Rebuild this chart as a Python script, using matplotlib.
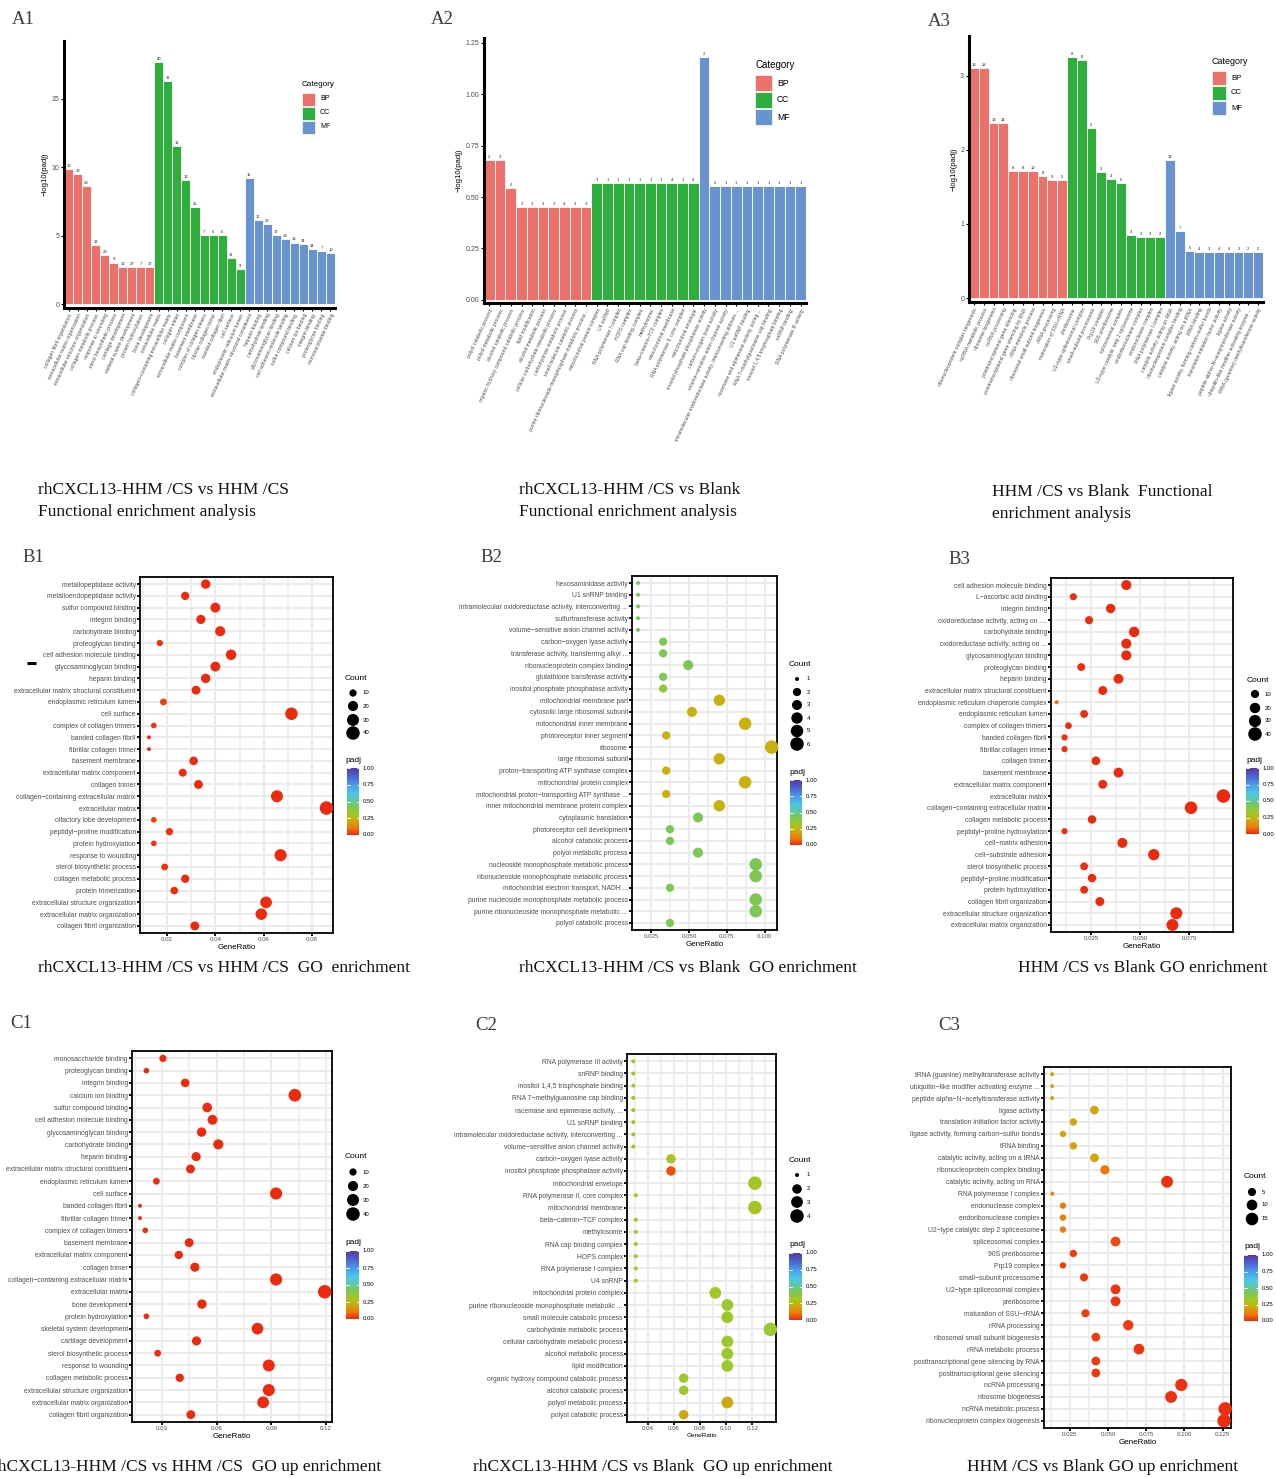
import numpy as np
import matplotlib
matplotlib.use('Agg')
import matplotlib.pyplot as plt
from matplotlib.colors import LinearSegmentedColormap
from matplotlib.patches import Rectangle
from matplotlib.ticker import MultipleLocator, FormatStrFormatter

plt.rcParams['font.family'] = ['Liberation Sans', 'DejaVu Sans']

W, H = 1276, 1478

# ---------------- A panels: -log10(padj) bar charts ----------------
a1_bp_terms = ['collagen fibril organization', 'extracellular matrix organization',
               'extracellular structure organization', 'collagen metabolic process',
               'response to wounding', 'sterol biosynthetic process', 'cartilage development',
               'skeletal system development', 'protein hydroxylation', 'bone development']
a1_bp_vals = [9.86, 9.48, 8.60, 4.31, 3.56, 3.03, 2.71, 2.71, 2.71, 2.71]
a1_bp_counts = [16, 28, 29, 13, 29, 9, 16, 27, 7, 17]
a1_cc_terms = ['extracellular matrix', 'collagen−containing extracellular matrix', 'collagen trimer',
               'extracellular matrix component', 'basement membrane', 'complex of collagen trimers',
               'fibrillar collagen trimer', 'banded collagen fibril', 'cell surface',
               'endoplasmic reticulum lumen']
a1_cc_vals = [17.68, 16.28, 11.54, 9.05, 7.10, 5.02, 5.02, 5.02, 3.39, 2.53]
a1_cc_counts = [40, 31, 16, 13, 15, 7, 6, 6, 31, 9]
a1_mf_terms = ['extracellular matrix structural constituent', 'heparin binding', 'carbohydrate binding',
               'glycosaminoglycan binding', 'cell adhesion molecule binding', 'sulfur compound binding',
               'calcium ion binding', 'integrin binding', 'proteoglycan binding', 'monosaccharide binding']
a1_mf_vals = [9.23, 6.15, 5.87, 5.02, 4.77, 4.49, 4.36, 4.01, 3.84, 3.69]
a1_mf_counts = [15, 16, 20, 17, 19, 18, 34, 14, 7, 10]

a2_bp_terms = ['polyol catabolic process', 'polyol metabolic process', 'alcohol catabolic process',
               'organic hydroxy compound catabolic process', 'lipid modification',
               'alcohol metabolic process', 'cellular carbohydrate metabolic process',
               'carbohydrate metabolic process', 'small molecule catabolic process',
               'purine ribonucleoside monophosphate metabolic process ...']
a2_bp_vals = [0.680, 0.680, 0.544, 0.451, 0.451, 0.451, 0.451, 0.451, 0.451, 0.451]
a2_bp_counts = [2, 3, 2, 2, 3, 3, 3, 4, 3, 3]
a2_cc_terms = ['mitochondrial protein complex', 'U4 snRNP', 'RNA polymerase I complex', 'HOPS complex',
               'RNA cap binding complex', 'methylosome', 'beta−catenin−TCF complex',
               'mitochondrial membrane', 'RNA polymerase II, core complex', 'mitochondrial envelope']
a2_cc_vals = [0.566, 0.566, 0.566, 0.566, 0.566, 0.566, 0.566, 0.566, 0.566, 0.566]
a2_cc_counts = [3, 1, 1, 1, 1, 1, 1, 4, 1, 4]
a2_mf_terms = ['inositol phosphate phosphatase activity', 'carbon−oxygen lyase activity',
               'volume−sensitive anion channel activity',
               'intramolecular oxidoreductase activity, interconverting aldoses ...',
               'U1 snRNP binding', 'racemase and epimerase activity, acting ...',
               'RNA 7−methylguanosine cap binding', 'inositol 1,4,5 trisphosphate binding',
               'snRNP binding', 'RNA polymerase III activity']
a2_mf_vals = [1.179, 0.553, 0.553, 0.553, 0.553, 0.553, 0.553, 0.553, 0.553, 0.553]
a2_mf_counts = [2, 2, 1, 1, 1, 1, 1, 1, 1, 1]

a3_bp_terms = ['ribonucleoprotein complex biogenesis', 'ncRNA metabolic process', 'ribosome biogenesis',
               'ncRNA processing', 'posttranscriptional gene silencing',
               'posttranscriptional gene silencing by RNA', 'rRNA metabolic process',
               'ribosomal small subunit biogenesis', 'rRNA processing', 'maturation of SSU−rRNA']
a3_bp_vals = [3.11, 3.11, 2.36, 2.36, 1.72, 1.72, 1.72, 1.65, 1.60, 1.60]
a3_bp_counts = [18, 18, 13, 14, 8, 8, 10, 8, 9, 5]
a3_cc_terms = ['preribosome', 'U2−type spliceosomal complex', 'small−subunit processome', 'Prp19 complex',
               '90S preribosome', 'spliceosomal complex', 'U2−type catalytic step 2 spliceosome',
               'endoribonuclease complex', 'endonuclease complex', 'RNA polymerase I complex']
a3_cc_vals = [3.26, 3.21, 2.30, 1.70, 1.61, 1.55, 0.85, 0.82, 0.82, 0.82]
a3_cc_counts = [8, 8, 5, 3, 4, 6, 3, 3, 3, 2]
a3_mf_terms = ['catalytic activity, acting on RNA', 'ribonucleoprotein complex binding',
               'catalytic activity, acting on a tRNA', 'tRNA binding',
               'ligase activity, forming carbon−sulfur bonds', 'translation initiation factor activity',
               'ligase activity', 'peptide alpha−N−acetyltransferase activity',
               'ubiquitin−like modifier activating enzyme ...', 'tRNA (guanine) methyltransferase activity']
a3_mf_vals = [1.87, 0.905, 0.635, 0.62, 0.62, 0.62, 0.62, 0.62, 0.62, 0.62]
a3_mf_counts = [13, 7, 6, 4, 3, 4, 6, 2, 2, 2]

# ---------------- B panels: GO enrichment dot plots ----------------
b1_terms = ['metallopeptidase activity', 'metalloendopeptidase activity', 'sulfur compound binding',
            'integrin binding', 'carbohydrate binding', 'proteoglycan binding',
            'cell adhesion molecule binding', 'glycosaminoglycan binding', 'heparin binding',
            'extracellular matrix structural constituent', 'endoplasmic reticulum lumen', 'cell surface',
            'complex of collagen trimers', 'banded collagen fibril', 'fibrillar collagen trimer',
            'basement membrane', 'extracellular matrix component', 'collagen trimer',
            'collagen−containing extracellular matrix', 'extracellular matrix',
            'olfactory lobe development', 'peptidyl−proline modification', 'protein hydroxylation',
            'response to wounding', 'sterol biosynthetic process', 'collagen metabolic process',
            'protein trimerization', 'extracellular structure organization',
            'extracellular matrix organization', 'collagen fibril organization']
b1_ratio = [0.036, 0.0275, 0.040, 0.034, 0.042, 0.017, 0.0465, 0.040, 0.036, 0.032,
            0.0185, 0.0715, 0.0145, 0.0125, 0.0125, 0.031, 0.0265, 0.033, 0.0655, 0.086,
            0.0145, 0.021, 0.0145, 0.067, 0.019, 0.0275, 0.023, 0.061, 0.059, 0.0315]
b1_count = [17, 13, 19, 16, 20, 8, 22, 19, 17, 15, 9, 33, 7, 6, 6, 14, 12, 15, 30, 40,
            7, 10, 7, 31, 9, 13, 11, 28, 27, 15]
b1_padj = [0.001, 0.002, 0.001, 0.002, 0.001, 0.008, 0.001, 0.001, 0.001, 0.001,
           0.03, 0.001, 0.01, 0.005, 0.005, 0.001, 0.002, 0.001, 0.001, 0.001,
           0.03, 0.01, 0.012, 0.001, 0.015, 0.002, 0.004, 0.001, 0.001, 0.001]

b2_terms = ['hexosaminidase activity', 'U1 snRNP binding',
            'intramolecular oxidoreductase activity, interconverting ...', 'sulfurtransferase activity',
            'volume−sensitive anion channel activity', 'carbon−oxygen lyase activity',
            'transferase activity, transferring alkyl ...', 'ribonucleoprotein complex binding',
            'glutathione transferase activity', 'inositol phosphate phosphatase activity',
            'mitochondrial membrane part', 'cytosolic large ribosomal subunit',
            'mitochondrial inner membrane', 'photoreceptor inner segment', 'ribosome',
            'large ribosomal subunit', 'proton−transporting ATP synthase complex',
            'mitochondrial protein complex', 'mitochondrial proton−transporting ATP synthase ...',
            'inner mitochondrial membrane protein complex', 'cytoplasmic translation',
            'photoreceptor cell development', 'alcohol catabolic process', 'polyol metabolic process',
            'nucleoside monophosphate metabolic process', 'ribonucleoside monophosphate metabolic process',
            'mitochondrial electron transport, NADH ...', 'purine nucleoside monophosphate metabolic process',
            'purine ribonucleoside monophosphate metabolic ...', 'polyol catabolic process']
b2_ratio = [0.0165, 0.0165, 0.0165, 0.0165, 0.0165, 0.033, 0.033, 0.0495, 0.033, 0.033,
            0.070, 0.052, 0.087, 0.035, 0.1045, 0.070, 0.035, 0.087, 0.035, 0.070,
            0.056, 0.0375, 0.0375, 0.056, 0.094, 0.094, 0.0375, 0.094, 0.094, 0.0375]
b2_count = [1, 1, 1, 1, 1, 2, 2, 3, 2, 2, 4, 3, 5, 2, 6, 4, 2, 5, 2, 4,
            3, 2, 2, 3, 5, 5, 2, 5, 5, 2]
b2_padj = [0.42, 0.42, 0.42, 0.42, 0.42, 0.42, 0.42, 0.42, 0.42, 0.36,
           0.22, 0.22, 0.22, 0.22, 0.22, 0.22, 0.22, 0.22, 0.22, 0.22,
           0.42, 0.42, 0.42, 0.42, 0.42, 0.42, 0.42, 0.42, 0.42, 0.42]

b3_terms = ['cell adhesion molecule binding', 'L−ascorbic acid binding', 'integrin binding',
            'oxidoreductase activity, acting on ....', 'carbohydrate binding',
            'oxidoreductase activity, acting on ...', 'glycosaminoglycan binding', 'proteoglycan binding',
            'heparin binding', 'extracellular matrix structural constituent',
            'endoplasmic reticulum chaperone complex', 'endoplasmic reticulum lumen',
            'complex of collagen trimers', 'banded collagen fibril', 'fibrillar collagen trimer',
            'collagen trimer', 'basement membrane', 'extracellular matrix component',
            'extracellular matrix', 'collagen−containing extracellular matrix',
            'collagen metabolic process', 'peptidyl−proline hydroxylation', 'cell−matrix adhesion',
            'cell−substrate adhesion', 'sterol biosynthetic process', 'peptidyl−proline modification',
            'protein hydroxylation', 'collagen fibril organization',
            'extracellular structure organization', 'extracellular matrix organization']
b3_ratio = [0.043, 0.016, 0.035, 0.024, 0.047, 0.043, 0.043, 0.020, 0.039, 0.031,
            0.0075, 0.0215, 0.0135, 0.0115, 0.0115, 0.0275, 0.039, 0.031, 0.0925, 0.076,
            0.0255, 0.0115, 0.041, 0.057, 0.0215, 0.0255, 0.0215, 0.0295, 0.0685, 0.0665]
b3_count = [18, 7, 15, 10, 20, 18, 18, 9, 17, 13, 3, 9, 6, 5, 5, 12, 17, 13, 40, 33,
            11, 5, 18, 25, 9, 11, 9, 13, 29, 29]
b3_padj = [0.001, 0.01, 0.001, 0.004, 0.001, 0.001, 0.001, 0.003, 0.001, 0.001,
           0.08, 0.004, 0.006, 0.008, 0.008, 0.002, 0.001, 0.001, 0.001, 0.001,
           0.002, 0.008, 0.001, 0.001, 0.004, 0.002, 0.004, 0.002, 0.001, 0.001]

# ---------------- C panels: GO up enrichment dot plots ----------------
c1_terms = ['monosaccharide binding', 'proteoglycan binding', 'integrin binding', 'calcium ion binding',
            'sulfur compound binding', 'cell adhesion molecule binding', 'glycosaminoglycan binding',
            'carbohydrate binding', 'heparin binding', 'extracellular matrix structural constituent',
            'endoplasmic reticulum lumen', 'cell surface', 'banded collagen fibril',
            'fibrillar collagen trimer', 'complex of collagen trimers', 'basement membrane',
            'extracellular matrix component', 'collagen trimer',
            'collagen−containing extracellular matrix', 'extracellular matrix', 'bone development',
            'protein hydroxylation', 'skeletal system development', 'cartilage development',
            'sterol biosynthetic process', 'response to wounding', 'collagen metabolic process',
            'extracellular structure organization', 'extracellular matrix organization',
            'collagen fibril organization']
c1_ratio = [0.0305, 0.0214, 0.0427, 0.1029, 0.0548, 0.0577, 0.0517, 0.0609, 0.0487, 0.0456,
            0.0269, 0.0926, 0.0179, 0.0179, 0.0208, 0.0449, 0.0392, 0.0480, 0.0926, 0.1193,
            0.0519, 0.0214, 0.0824, 0.0489, 0.0276, 0.0886, 0.0397, 0.0886, 0.0855, 0.0458]
c1_count = [10, 7, 14, 34, 18, 19, 17, 20, 16, 15, 9, 31, 6, 6, 7, 15, 13, 16, 31, 40,
            17, 7, 28, 16, 9, 30, 13, 30, 29, 15]
c1_padj = [0.004, 0.006, 0.001, 0.001, 0.001, 0.001, 0.001, 0.001, 0.001, 0.001,
           0.008, 0.001, 0.004, 0.004, 0.004, 0.001, 0.001, 0.001, 0.001, 0.001,
           0.001, 0.006, 0.001, 0.001, 0.006, 0.001, 0.001, 0.001, 0.001, 0.001]

c2_terms = ['RNA polymerase III activity', 'snRNP binding', 'inositol 1,4,5 trisphosphate binding',
            'RNA 7−methylguanosine cap binding', 'racemase and epimerase activity, ...',
            'U1 snRNP binding', 'intramolecular oxidoreductase activity, interconverting ...',
            'volume−sensitive anion channel activity', 'carbon−oxygen lyase activity',
            'inositol phosphate phosphatase activity', 'mitochondrial envelope',
            'RNA polymerase II, core complex', 'mitochondrial membrane', 'beta−catenin−TCF complex',
            'methylosome', 'RNA cap binding complex', 'HOPS complex', 'RNA polymerase I complex',
            'U4 snRNP', 'mitochondrial protein complex',
            'purine ribonucleoside monophosphate metabolic ...', 'small molecule catabolic process',
            'carbohydrate metabolic process', 'cellular carbohydrate metabolic process',
            'alcohol metabolic process', 'lipid modification',
            'organic hydroxy compound catabolic process', 'alcohol catabolic process',
            'polyol metabolic process', 'polyol catabolic process']
c2_ratio = [0.029, 0.029, 0.029, 0.029, 0.029, 0.029, 0.029, 0.029, 0.0578, 0.0578,
            0.122, 0.0309, 0.122, 0.0309, 0.0309, 0.0309, 0.0309, 0.0309, 0.0309, 0.0917,
            0.1009, 0.1009, 0.1338, 0.1009, 0.1009, 0.1009, 0.0675, 0.0675, 0.1009, 0.0675]
c2_count = [1, 1, 1, 1, 1, 1, 1, 1, 2, 2, 4, 1, 4, 1, 1, 1, 1, 1, 1, 3,
            3, 3, 4, 3, 3, 3, 2, 2, 3, 2]
c2_padj = [0.30, 0.30, 0.30, 0.30, 0.30, 0.30, 0.30, 0.30, 0.31, 0.05,
           0.31, 0.30, 0.31, 0.30, 0.30, 0.30, 0.30, 0.30, 0.30, 0.31,
           0.33, 0.33, 0.34, 0.33, 0.33, 0.33, 0.33, 0.33, 0.20, 0.20]

c3_terms = ['tRNA (guanine) methyltransferase activity', 'ubiquitin−like modifier activating enzyme ...',
            'peptide alpha−N−acetyltransferase activity', 'ligase activity',
            'translation initiation factor activity', 'ligase activity, forming carbon−sulfur bonds',
            'tRNA binding', 'catalytic activity, acting on a tRNA', 'ribonucleoprotein complex binding',
            'catalytic activity, acting on RNA', 'RNA polymerase I complex', 'endonuclease complex',
            'endoribonuclease complex', 'U2−type catalytic step 2 spliceosome', 'spliceosomal complex',
            '90S preribosome', 'Prp19 complex', 'small−subunit processome', 'U2−type spliceosomal complex',
            'preribosome', 'maturation of SSU−rRNA', 'rRNA processing', 'ribosomal small subunit biogenesis',
            'rRNA metabolic process', 'posttranscriptional gene silencing by RNA',
            'posttranscriptional gene silencing', 'ncRNA processing', 'ribosome biogenesis',
            'ncRNA metabolic process', 'ribonucleoprotein complex biogenesis']
c3_ratio = [0.0136, 0.0136, 0.0136, 0.0412, 0.0274, 0.0206, 0.0274, 0.0412, 0.0480, 0.0887,
            0.0136, 0.0206, 0.0206, 0.0206, 0.0550, 0.0274, 0.0206, 0.0344, 0.0550, 0.0550,
            0.0353, 0.0633, 0.0421, 0.0703, 0.0421, 0.0421, 0.0980, 0.0913, 0.1267, 0.1260]
c3_count = [2, 2, 2, 6, 4, 3, 4, 6, 7, 13, 2, 3, 3, 3, 8, 4, 3, 5, 8, 8,
            5, 9, 6, 10, 6, 6, 14, 13, 18, 18]
c3_padj = [0.20, 0.20, 0.20, 0.20, 0.20, 0.19, 0.20, 0.20, 0.10, 0.01,
           0.12, 0.11, 0.11, 0.11, 0.04, 0.03, 0.02, 0.02, 0.015, 0.015,
           0.02, 0.02, 0.02, 0.015, 0.02, 0.02, 0.01, 0.01, 0.005, 0.005]

cat_colors = {'BP': '#EB716A', 'CC': '#2EAE3C', 'MF': '#6893CE'}

padj_cmap = LinearSegmentedColormap.from_list('padj', [
    (0.00, '#EE2A0E'), (0.10, '#EE7A0A'), (0.22, '#C8B00E'), (0.32, '#A0C828'),
    (0.42, '#7CC855'), (0.52, '#60C8A8'), (0.62, '#4CC8E8'), (0.75, '#4C9CE6'),
    (0.88, '#4C62D2'), (1.00, '#5A3A9E')])

fig = plt.figure(figsize=(W / 100, H / 100), dpi=100)
# pixel-coordinate overlay for legends, letters and captions (drawn on top)
ov = fig.add_axes([0, 0, 1, 1])
ov.axis('off')
ov.set_zorder(10)


def box_axes(x0, y0, x1, y1):
    return fig.add_axes([x0 / W, 1 - y1 / H, (x1 - x0) / W, (y1 - y0) / H])


def dot_area(v, lo, hi):
    d = 4 + 9.5 * np.sqrt((np.asarray(v, dtype=float) - lo) / (hi - lo))
    return (d * 0.72) ** 2


def bar_panel(box, groups, ylim, yticks, yfmt, leg):
    terms, vals, counts, cols = [], [], [], []
    for cat, t, v, c in groups:
        terms += t
        vals += v
        counts += c
        cols += [cat_colors[cat]] * len(v)
    ax = box_axes(*box)
    x = np.arange(len(vals))
    ax.bar(x, vals, width=1.0, color=cols, edgecolor='white', linewidth=0.6)
    off = (ylim[1] - ylim[0]) * 0.004
    for xi, v, c in zip(x, vals, counts):
        ax.text(xi, v + off, str(c), ha='center', va='bottom', fontsize=3, color='#222222')
    ax.set_xlim(-0.5, len(vals) - 0.5)
    ax.set_ylim(ylim)
    for s in ['top', 'right']:
        ax.spines[s].set_visible(False)
    for s in ['left', 'bottom']:
        ax.spines[s].set_linewidth(2.2)
    ax.set_xticks(x)
    ax.set_xticklabels(terms, rotation=65, ha='right', va='top', rotation_mode='anchor',
                       fontsize=3.6, color='#4D4D4D')
    ax.set_yticks(yticks)
    ax.yaxis.set_major_formatter(FormatStrFormatter(yfmt))
    ax.tick_params(axis='both', length=2, width=0.8, pad=1.5)
    ax.tick_params(axis='y', labelsize=5, labelcolor='#4D4D4D')
    ax.set_ylabel('−log10(padj)', fontsize=5.6, labelpad=2)
    # category legend
    tx, ty, pw, ph, ys, fs = leg
    ov.text(tx, ty, 'Category', fontsize=fs, va='center', ha='left')
    for yc, cat in zip(ys, ['BP', 'CC', 'MF']):
        ov.add_patch(Rectangle((tx, yc - ph / 2), pw, ph, facecolor=cat_colors[cat],
                               edgecolor='white', lw=0.5))
        ov.text(tx + pw + 5, yc, cat, fontsize=fs - 0.8, va='center', ha='left')


def dot_panel(box, terms, ratio, count, padj, xlim, step, fmt, breaks, leg, xlab_fs=5.8):
    ax = box_axes(*box)
    n = len(terms)
    y = np.arange(n)
    lo, hi = min(count), max(count)
    ax.scatter(ratio, y, s=dot_area(count, lo, hi), c=padj, cmap=padj_cmap, vmin=0, vmax=1,
               edgecolors='none', zorder=3, clip_on=False)
    ax.set_ylim(n - 0.4, -0.6)
    ax.set_xlim(xlim)
    ax.xaxis.set_major_locator(MultipleLocator(step))
    ax.xaxis.set_minor_locator(MultipleLocator(step / 2))
    ax.xaxis.set_major_formatter(FormatStrFormatter(fmt))
    ax.grid(which='major', color='#EBEBEB', lw=1.5)
    ax.grid(which='minor', axis='x', color='#EBEBEB', lw=1.1)
    ax.set_axisbelow(True)
    ax.set_yticks(y)
    ax.set_yticklabels(terms, fontsize=4.85, color='#4D4D4D')
    ax.tick_params(axis='both', which='major', length=2, width=1.3, pad=1)
    ax.tick_params(axis='x', labelsize=4.4, labelcolor='#4D4D4D')
    ax.tick_params(which='minor', length=0)
    for sp in ax.spines.values():
        sp.set_linewidth(1.3)
    ax.set_xlabel('GeneRatio', fontsize=xlab_fs, labelpad=1)

    # size legend
    cx, cy, item_ys, px, py, cbx, cby = leg
    ov.text(cx, cy, 'Count', fontsize=6, va='center', ha='left')
    for b, yb in zip(breaks, item_ys):
        ov.scatter(cx + 8, yb, s=dot_area(b, lo, hi), color='black', edgecolors='none')
        ov.text(cx + 18, yb, str(b), fontsize=4.3, va='center', ha='left')
    # colour bar
    ov.text(px, py, 'padj', fontsize=6, va='center', ha='left')
    grad = np.linspace(1, 0, 200).reshape(-1, 1)
    ov.imshow(grad, cmap=padj_cmap, vmin=0, vmax=1, aspect='auto',
              extent=[cbx[0], cbx[1], cby[1], cby[0]])
    for v in [0, 0.25, 0.5, 0.75, 1.0]:
        yy = cby[1] - v * (cby[1] - cby[0])
        ov.plot([cbx[0], cbx[0] + 2.5], [yy, yy], color='white', lw=0.6)
        ov.plot([cbx[1] - 2.5, cbx[1]], [yy, yy], color='white', lw=0.6)
        ov.text(cbx[1] + 4, yy, f'{v:.2f}', fontsize=4.3, va='center', ha='left')


# ---- row A ----
bar_panel((64, 41, 335, 308),
          [('BP', a1_bp_terms, a1_bp_vals, a1_bp_counts),
           ('CC', a1_cc_terms, a1_cc_vals, a1_cc_counts),
           ('MF', a1_mf_terms, a1_mf_vals, a1_mf_counts)],
          (-0.29, 19.2), [0, 5, 10, 15], '%d',
          (302, 85, 13, 13, [99, 113, 127], 5.9))
bar_panel((484, 38, 806, 303),
          [('BP', a2_bp_terms, a2_bp_vals, a2_bp_counts),
           ('CC', a2_cc_terms, a2_cc_vals, a2_cc_counts),
           ('MF', a2_mf_terms, a2_mf_vals, a2_mf_counts)],
          (-0.015, 1.273), [0, 0.25, 0.5, 0.75, 1.0, 1.25], '%.2f',
          (755, 65, 17, 16, [83, 100, 117], 7))
bar_panel((969, 36, 1263, 302),
          [('BP', a3_bp_terms, a3_bp_vals, a3_bp_counts),
           ('CC', a3_cc_terms, a3_cc_vals, a3_cc_counts),
           ('MF', a3_mf_terms, a3_mf_vals, a3_mf_counts)],
          (-0.054, 3.54), [0, 1, 2, 3], '%d',
          (1212, 62, 14, 14, [78, 93, 108], 6.4))

# ---- row B ----
dot_panel((140, 577, 333, 933), b1_terms, b1_ratio, b1_count, b1_padj,
          (0.0088, 0.0887), 0.02, '%.2f', [10, 20, 30, 40],
          (345, 678, [693, 706, 720, 733], 345, 761, (347, 359), (768, 835)))
dot_panel((632, 576, 777, 930), b2_terms, b2_ratio, b2_count, b2_padj,
          (0.0125, 0.108), 0.025, '%.3f', [1, 2, 3, 4, 5, 6],
          (789, 664, [679, 692, 705, 718, 731, 744], 789, 773, (790, 802), (780, 845)))
dot_panel((1051, 578, 1233, 932), b3_terms, b3_ratio, b3_count, b3_padj,
          (0.0046, 0.0974), 0.025, '%.3f', [10, 20, 30, 40],
          (1247, 680, [694, 708, 721, 734], 1246, 761, (1246, 1259), (768, 834)))

# ---- row C ----
dot_panel((132, 1051, 332, 1422), c1_terms, c1_ratio, c1_count, c1_padj,
          (0.0135, 0.1233), 0.03, '%.2f', [10, 20, 30, 40],
          (345, 1157, [1172, 1186, 1200, 1214], 345, 1242, (346, 359), (1251, 1319)))
dot_panel((627, 1054, 776, 1422), c2_terms, c2_ratio, c2_count, c2_padj,
          (0.0242, 0.1381), 0.02, '%.2f', [1, 2, 3, 4],
          (789, 1160, [1175, 1189, 1202, 1216], 789, 1244, (789, 802), (1253, 1320)),
          xlab_fs=4.6)
dot_panel((1044, 1067, 1231, 1428), c3_terms, c3_ratio, c3_count, c3_padj,
          (0.0082, 0.1305), 0.025, '%.3f', [5, 10, 15],
          (1244, 1177, [1192, 1205, 1219], 1244, 1247, (1244, 1258), (1255, 1321)))

# panel letters
serif = ['Liberation Serif', 'DejaVu Serif']
for lab, x, y in [('A1', 12, 20), ('A2', 431, 20), ('A3', 928, 22),
                  ('B1', 22, 557), ('B2', 480, 558), ('B3', 948, 560),
                  ('C1', 10, 1023), ('C2', 475, 1025), ('C3', 938, 1025)]:
    ov.text(x, y, lab, family=serif, fontsize=13.5, color='#3A3A3A', va='center', ha='left')

# captions
for txt, x, y in [('rhCXCL13-HHM /CS vs HHM /CS', 38, 490),
                  ('Functional enrichment analysis', 38, 512),
                  ('rhCXCL13-HHM /CS vs Blank', 519, 490),
                  ('Functional enrichment analysis', 519, 512),
                  ('HHM /CS vs Blank  Functional', 992, 492),
                  ('enrichment analysis', 992, 514),
                  ('rhCXCL13-HHM /CS vs HHM /CS  GO  enrichment', 38, 968),
                  ('rhCXCL13-HHM /CS vs Blank  GO enrichment', 519, 968),
                  ('HHM /CS vs Blank GO enrichment', 1018, 968),
                  ('rhCXCL13-HHM /CS vs HHM /CS  GO up enrichment', -8, 1467),
                  ('rhCXCL13-HHM /CS vs Blank  GO up enrichment', 473, 1467),
                  ('HHM /CS vs Blank GO up enrichment', 967, 1467)]:
    ov.text(x, y, txt, family=serif, fontsize=12.5, color='#111111', va='center', ha='left')

# stray mark left of the B1 labels
ov.plot([27, 36], [663, 663], color='black', lw=2.2, solid_capstyle='butt')

ov.set_xlim(0, W)
ov.set_ylim(H, 0)

fig.savefig('out.png', dpi=100)
